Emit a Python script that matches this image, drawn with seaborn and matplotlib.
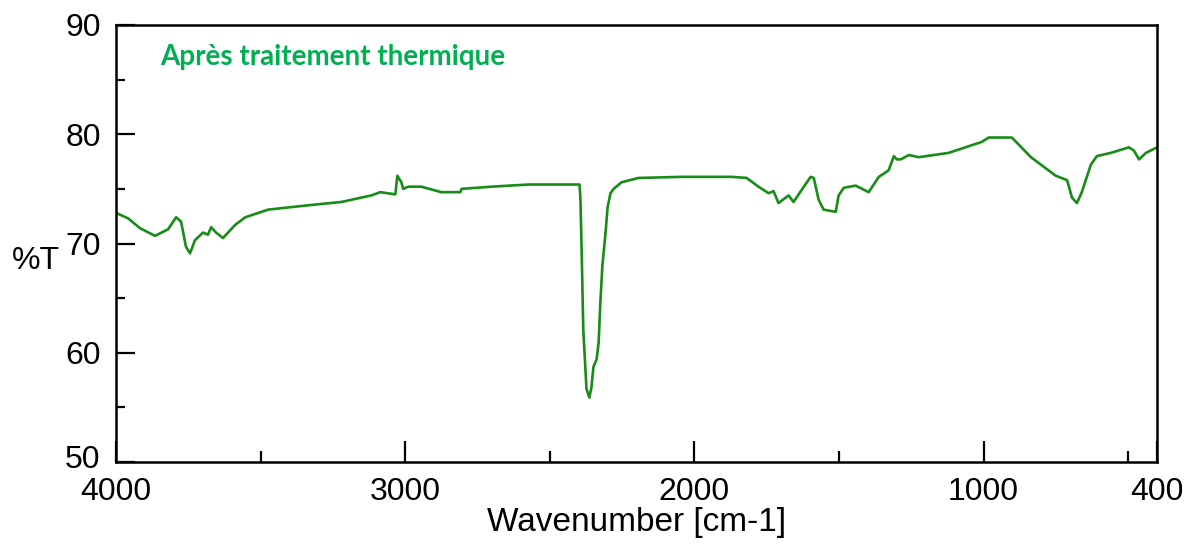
import numpy as np
import pandas as pd
import matplotlib
matplotlib.use("Agg")
import matplotlib.pyplot as plt
import matplotlib.transforms as mtransforms
import seaborn as sns

# FTIR spectrum after heat treatment: wavenumber (cm-1) and transmittance (%T)
wavenumber = [4000, 3958, 3917, 3865, 3820, 3792, 3775, 3758, 3744, 3727,
              3699, 3682, 3671, 3654, 3630, 3588, 3553, 3474, 3335, 3221,
              3117, 3086, 3034, 3027, 3013, 3007, 2989, 2944, 2875, 2809,
              2805, 2702, 2574, 2401, 2397, 2394, 2390, 2384, 2373, 2363,
              2356, 2349, 2338, 2331, 2325, 2318, 2307, 2300, 2290, 2279,
              2252, 2193, 2044, 1871, 1819, 1778, 1743, 1726, 1709, 1674,
              1657, 1629, 1598, 1587, 1570, 1553, 1511, 1501, 1483, 1442,
              1397, 1362, 1328, 1310, 1300, 1286, 1258, 1224, 1120, 1006,
              982, 902, 836, 750, 711, 694, 677, 660, 629, 608,
              559, 497, 480, 462, 438, 400]
transmittance = [72.8, 72.3, 71.4, 70.7, 71.3, 72.4, 72.0, 69.7, 69.1, 70.3,
                 71.0, 70.8, 71.5, 71.0, 70.5, 71.7, 72.4, 73.1, 73.5, 73.8,
                 74.4, 74.7, 74.5, 76.2, 75.6, 75.0, 75.2, 75.2, 74.7, 74.7,
                 75.0, 75.2, 75.4, 75.4, 75.4, 74.2, 69.7, 62.1, 56.7, 55.9,
                 56.8, 58.7, 59.4, 60.9, 64.6, 68.0, 71.0, 73.3, 74.6, 75.0,
                 75.6, 76.0, 76.1, 76.1, 76.0, 75.2, 74.6, 74.8, 73.7, 74.4,
                 73.8, 74.9, 76.1, 76.0, 74.0, 73.1, 72.9, 74.4, 75.1, 75.3,
                 74.7, 76.1, 76.7, 78.0, 77.7, 77.7, 78.1, 77.9, 78.3, 79.3,
                 79.7, 79.7, 77.9, 76.2, 75.8, 74.2, 73.7, 74.7, 77.2, 78.0,
                 78.3, 78.8, 78.5, 77.7, 78.3, 78.8]

x_major = [4000, 3000, 2000, 1000, 400]
x_minor = [3500, 2500, 1500, 500]
y_major = [50, 60, 70, 80, 90]
y_minor = [55, 65, 75, 85]

title_text = "Après traitement thermique"
x_title = "Wavenumber [cm-1]"
y_title = "%T"

df = pd.DataFrame({"wavenumber": wavenumber, "T": transmittance})

sns.set_theme(style="white")
PX = 72 / 100  # one pixel in points at 100 dpi
plt.rcParams.update({
    "font.family": ["Liberation Sans", "DejaVu Sans"],
    "axes.axisbelow": False,
    "xtick.bottom": True, "xtick.top": False,
    "ytick.left": True, "ytick.right": False,
    "ytick.major.left": True, "ytick.minor.left": True,
    "xtick.major.bottom": True, "xtick.minor.bottom": True,
    "xtick.direction": "in", "ytick.direction": "in",
    "xtick.color": "black", "ytick.color": "black",
    "xtick.labelcolor": "black", "ytick.labelcolor": "black",
    "xtick.major.size": 21 * PX, "xtick.minor.size": 11 * PX,
    "ytick.major.size": 19 * PX, "ytick.minor.size": 9 * PX,
    "xtick.major.width": 1.6, "xtick.minor.width": 1.6,
    "ytick.major.width": 1.6, "ytick.minor.width": 1.6,
    "xtick.major.pad": 11, "ytick.major.pad": 11,
    "xtick.labelsize": 23, "ytick.labelsize": 23,
})

fig = plt.figure(figsize=(11.84, 5.55), dpi=100)
ax = fig.add_axes([116 / 1184, 1 - 462 / 555, (1157 - 116) / 1184, (462 - 25) / 555])

sns.lineplot(data=df, x="wavenumber", y="T", ax=ax, color="#178c17",
             linewidth=1.9, sort=False, estimator=None)

ax.set_xlim(4000, 400)
ax.set_ylim(50, 90)

ax.set_xticks(x_major)
ax.set_xticks(x_minor, minor=True)
ax.set_yticks(y_major)
ax.set_yticks(y_minor, minor=True)
ax.set_xticklabels([str(v) for v in x_major])
ax.set_yticklabels([str(v) for v in y_major])

# make sure every major y tick mark is drawn, inward, in black
for t in ax.yaxis.get_major_ticks():
    t.tick1line.set_visible(True)
    t.tick1line.set_color("black")
    t.tick1line.set_markersize(19 * PX)
    t.tick1line.set_markeredgewidth(1.6)

# lift the bottom y label a little so it clears the first x label
lift = mtransforms.ScaledTranslation(0, 5 / 100, fig.dpi_scale_trans)
lab50 = ax.get_yticklabels()[0]
lab50.set_transform(lab50.get_transform() + lift)

for side in ["left", "bottom", "top", "right"]:
    ax.spines[side].set_visible(True)
    ax.spines[side].set_color("black")
    ax.spines[side].set_linewidth(1.8)

ax.set_xlabel(x_title, fontsize=24, labelpad=0, color="black")
ax.set_ylabel("")
fig.text(12 / 1184, 1 - 261 / 555, y_title, fontsize=23, ha="left",
         va="center", color="black")

ax.text(160 / 1184, 1 - 57 / 555, title_text, transform=fig.transFigure,
        fontsize=20, fontweight="bold", color="#00B050",
        family=["Lato", "DejaVu Sans"], ha="left", va="center")

fig.savefig("out.png", dpi=100)
